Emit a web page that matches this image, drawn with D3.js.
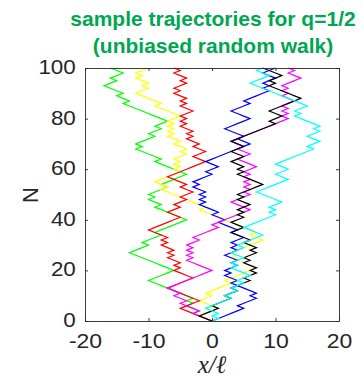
<!DOCTYPE html>
<html>
<head>
<meta charset="utf-8">
<script src="https://cdn.jsdelivr.net/npm/d3@7"></script>
<style>
  body { margin: 0; background: #fff; }
</style>
</head>
<body>
<svg id="chart" width="362" height="380"></svg>
<script>
// title, ticks
const titleLines = ["sample trajectories for q=1/2", "(unbiased random walk)"];
const xTicks = [-20, -10, 0, 10, 20];
const yTicks = [0, 20, 40, 60, 80, 100];
const xLabel = "x/\u2113";
const yLabel = "N";

// each walk as its 100 steps, from N=0 upward ('+' = step right, '-' = step left)
const greenSteps   = "-- -+-- +-+ ---- --- ++++ ------- +++-++ +-+ ++++ --- --+-- +- +++-++++ --- --+---- +-+ ++-+ +-++ ------- +--+ --- ++-++ --";
const yellowSteps  = "--+++--- ++-+ +++-++++ + --- -+- +++++ --+--- ------+------- +--+ +++ -+- +- ++-+ --+-- +-+ -+- ++ --- -+ ---- ++-+ --+- ++";
const redSteps     = "----- +++ -- --- ++ ++- --+ -+--+- +--+ -+- -- +++ ++ -- ++-+ +-++ --+- -- +++ +++ -- ++ --+-- +-+ -- +-+- ++ -- +-+ --+- ++-+ --+-";
const blueSteps    = "+++++ -+ ++-+ ---- +--+ -++- +--+ +-+ -+ +- -+- -- +--+ - --+- +-+--+ -+ ++ -+ +--+ ++++ ++ - -+- -- ++++ --- +++-++ ++- +- ++ -- ++";
const magentaSteps = "--- + --- +- -+ -- +++++++ --- -+-+ -+ -++- ++++-+++++ +- --+ ++- +-+ - +-+ - ++ --- ++ -- +- -+ ++++++ ++-+ -+-++- -+-+- +++ --+-";
const blackSteps   = "-- +++ -+ ++-++-++ +- ++ -+ -- +- ++-+ -- +- -- ++ -- ++ -+ - ++ -- +-+ +++ ---- +-+ --+ +- -+ +- - + ++++++ -+ +- -+ ++++ --- -- +- ++ ---";
const cyanSteps    = "+-+ --+ ++ +- ++- ++ -++- --+ - ++ -- ++-+ +++ --- +++++ -+-++- --- ++++ +- -+ +- -+ ++++ + -+ +- -+ +- + --- -+ - + +- -------- ++ +- -+";

const seriesNames = ["green", "yellow", "red", "blue", "magenta", "black", "cyan"];
const seriesSteps = [greenSteps, yellowSteps, redSteps, blueSteps, magentaSteps, blackSteps, cyanSteps];

const lineColor = {
  green: "#00ff00", yellow: "#ffff00", red: "#ff0000", blue: "#0000ff",
  magenta: "#ff00ff", black: "#000000", cyan: "#00ffff"
};

const margin = { top: 68, right: 23, bottom: 59, left: 85 };
const width = 362 - margin.left - margin.right;
const height = 380 - margin.top - margin.bottom;
const axisColor = "#262626";

// walk positions x at N = 0..100
const walks = seriesNames.map((name, i) => {
  const steps = seriesSteps[i].replace(/\s/g, "");
  const pts = [{ n: 0, x: 0 }];
  let x = 0;
  for (let n = 0; n < steps.length; n++) {
    x += steps[n] === "+" ? 1 : -1;
    pts.push({ n: n + 1, x: x });
  }
  return { name, pts };
});

const svg = d3.select("#chart");
const g = svg.append("g")
  .attr("transform", `translate(${margin.left},${margin.top})`);

const xScale = d3.scaleLinear().domain([-20, 20]).range([0, width]);
const yScale = d3.scaleLinear().domain([0, 100]).range([height, 0]);

const line = d3.line()
  .x(d => xScale(d.x))
  .y(d => yScale(d.n));

g.append("g")
  .selectAll("path")
  .data(walks)
  .join("path")
  .attr("d", d => line(d.pts))
  .attr("fill", "none")
  .attr("stroke", d => lineColor[d.name])
  .attr("stroke-width", 1.2)
  .attr("stroke-linejoin", "miter");

// axes: ticks point inward on all four sides
const fmt = d => String(d);

const xAxis = g.append("g")
  .attr("transform", `translate(0,${height})`)
  .call(d3.axisBottom(xScale).tickValues(xTicks).tickFormat(fmt)
    .tickSizeInner(-3).tickSizeOuter(0).tickPadding(13));

const yAxis = g.append("g")
  .call(d3.axisLeft(yScale).tickValues(yTicks).tickFormat(fmt)
    .tickSizeInner(-3).tickSizeOuter(0).tickPadding(8));

const topAxis = g.append("g")
  .call(d3.axisTop(xScale).tickValues(xTicks).tickFormat("")
    .tickSizeInner(-3).tickSizeOuter(0));

const rightAxis = g.append("g")
  .attr("transform", `translate(${width},0)`)
  .call(d3.axisRight(yScale).tickValues(yTicks).tickFormat("")
    .tickSizeInner(-3).tickSizeOuter(0));

[xAxis, yAxis, topAxis, rightAxis].forEach(a => {
  a.selectAll("path, line")
    .attr("stroke", axisColor)
    .attr("stroke-width", 0.9);
  a.selectAll("text")
    .attr("fill", axisColor)
    .style("font-family", "'Liberation Sans', Arial, sans-serif");
});

xAxis.selectAll("text")
  .style("font-size", "20px")
  .attr("transform", "scale(1.15,1)");

yAxis.selectAll("text")
  .style("font-size", "19.5px")
  .attr("dy", "0.28em")
  .attr("transform", "scale(1.15,1)");

// axis labels
svg.append("text")
  .attr("transform", `translate(${margin.left + width / 2},373)`)
  .attr("text-anchor", "middle")
  .attr("fill", axisColor)
  .style("font-family", "'Liberation Serif', 'DejaVu Serif', serif")
  .style("font-style", "italic")
  .style("font-size", "25px")
  .text(xLabel);

svg.append("text")
  .attr("transform", "translate(38,195) rotate(-90)")
  .attr("text-anchor", "middle")
  .attr("fill", axisColor)
  .style("font-family", "'Liberation Sans', Arial, sans-serif")
  .style("font-size", "22px")
  .text(yLabel);

// title
svg.append("g")
  .selectAll("text")
  .data(titleLines)
  .join("text")
  .attr("transform", (d, i) => `translate(213,${26 + i * 27}) scale(1.05,1)`)
  .attr("text-anchor", "middle")
  .attr("fill", "#00a651")
  .style("font-family", "'Liberation Sans', Arial, sans-serif")
  .style("font-weight", "bold")
  .style("font-size", "20px")
  .text(d => d);
</script>
</body>
</html>
